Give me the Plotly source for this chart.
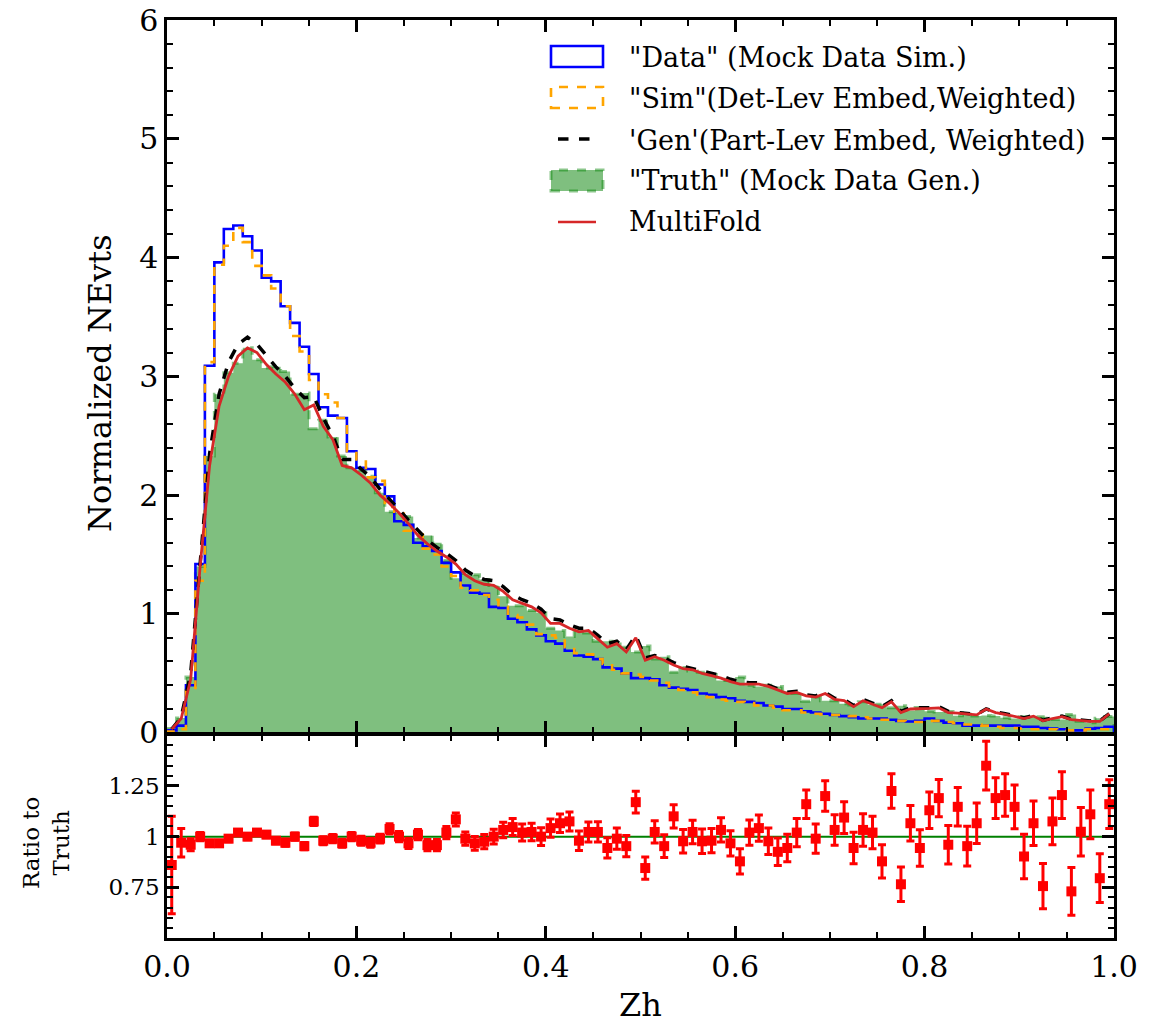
import numpy as np
import plotly.graph_objects as go

# ---------------- data ----------------
N_BINS = 100
bin_edges = np.linspace(0.0, 1.0, N_BINS + 1)
bin_centers = 0.5 * (bin_edges[:-1] + bin_edges[1:])

data_vals = [0.02, 0.06, 0.40, 1.42, 3.09, 3.96, 4.24, 4.27, 4.18, 4.06,
             3.83, 3.80, 3.59, 3.45, 3.25, 3.02, 2.74, 2.67, 2.65, 2.37,
             2.23, 2.22, 2.09, 1.99, 1.78, 1.75, 1.60, 1.57, 1.53, 1.43,
             1.35, 1.24, 1.18, 1.17, 1.06, 1.05, 0.96, 0.93, 0.87, 0.82,
             0.77, 0.75, 0.69, 0.65, 0.64, 0.62, 0.55, 0.54, 0.50, 0.46,
             0.46, 0.45, 0.40, 0.38, 0.37, 0.36, 0.33, 0.32, 0.30, 0.29,
             0.27, 0.26, 0.25, 0.23, 0.22, 0.20, 0.20, 0.18, 0.17, 0.16,
             0.15, 0.14, 0.13, 0.12, 0.12, 0.12, 0.11, 0.10, 0.095, 0.10,
             0.12, 0.10, 0.085, 0.08, 0.06, 0.06, 0.06, 0.06, 0.06, 0.06,
             0.05, 0.05, 0.04, 0.035, 0.03, 0.02, 0.02, 0.035, 0.04, 0.05]

sim_vals = [0.01, 0.03, 0.35, 1.28, 3.12, 3.94, 4.10, 4.25, 4.13, 3.93,
            3.85, 3.74, 3.59, 3.34, 3.21, 2.97, 2.85, 2.78, 2.65, 2.37,
            2.30, 2.15, 2.12, 1.90, 1.86, 1.70, 1.67, 1.55, 1.50, 1.40,
            1.32, 1.22, 1.20, 1.16, 1.12, 1.06, 0.99, 0.97, 0.91, 0.83,
            0.82, 0.80, 0.72, 0.67, 0.66, 0.62, 0.58, 0.53, 0.50, 0.49,
            0.47, 0.44, 0.42, 0.39, 0.36, 0.34, 0.32, 0.30, 0.28, 0.27,
            0.26, 0.25, 0.23, 0.23, 0.21, 0.19, 0.19, 0.17, 0.16, 0.155,
            0.15, 0.15, 0.14, 0.13, 0.12, 0.11, 0.11, 0.10, 0.09, 0.09,
            0.10, 0.10, 0.09, 0.08, 0.07, 0.07, 0.06, 0.05, 0.04, 0.04,
            0.035, 0.03, 0.03, 0.03, 0.025, 0.02, 0.02, 0.03, 0.03, 0.03]

gen_vals = [0.03, 0.13, 0.50, 1.45, 2.35, 2.85, 3.12, 3.27, 3.33, 3.27,
            3.17, 3.08, 3.00, 2.90, 2.82, 2.83, 2.65, 2.50, 2.30, 2.30,
            2.22, 2.15, 2.05, 1.97, 1.88, 1.79, 1.70, 1.62, 1.56, 1.51,
            1.45, 1.37, 1.32, 1.29, 1.28, 1.23, 1.16, 1.12, 1.09, 1.04,
            0.96, 0.95, 0.91, 0.88, 0.88, 0.82, 0.75, 0.77, 0.70, 0.82,
            0.63, 0.65, 0.63, 0.59, 0.56, 0.54, 0.52, 0.50, 0.48, 0.45,
            0.43, 0.42, 0.42, 0.40, 0.37, 0.34, 0.35, 0.32, 0.31, 0.34,
            0.29, 0.28, 0.23, 0.28, 0.25, 0.22, 0.27, 0.18, 0.21, 0.21,
            0.21, 0.22, 0.18, 0.17, 0.165, 0.155, 0.20, 0.175, 0.16, 0.145,
            0.125, 0.145, 0.105, 0.125, 0.14, 0.115, 0.105, 0.10, 0.10, 0.16]

truth_vals = [0.035, 0.124, 0.47, 1.40, 2.33, 2.85, 3.03, 3.11, 3.24, 3.14,
              3.07, 3.08, 3.04, 2.85, 2.86, 2.56, 2.63, 2.49, 2.33, 2.23,
              2.21, 2.16, 2.02, 1.86, 1.85, 1.82, 1.64, 1.66, 1.60, 1.45,
              1.30, 1.34, 1.33, 1.29, 1.24, 1.15, 1.07, 1.07, 1.03, 1.01,
              0.88, 0.86, 0.81, 0.87, 0.84, 0.77, 0.77, 0.76, 0.72, 0.68,
              0.73, 0.62, 0.64, 0.51, 0.55, 0.52, 0.51, 0.49, 0.44, 0.45,
              0.47, 0.40, 0.39, 0.40, 0.39, 0.35, 0.33, 0.265, 0.30, 0.27,
              0.27, 0.245, 0.234, 0.26, 0.235, 0.24, 0.21, 0.227, 0.187, 0.213,
              0.18, 0.175, 0.178, 0.143, 0.168, 0.14, 0.146, 0.142, 0.127, 0.121,
              0.134, 0.131, 0.135, 0.111, 0.111, 0.154, 0.097, 0.085, 0.122, 0.137]

multifold_vals = [0.03, 0.12, 0.45, 1.40, 2.25, 2.75, 3.00, 3.17, 3.24, 3.20,
                  3.10, 3.02, 2.95, 2.85, 2.72, 2.76, 2.58, 2.47, 2.25, 2.23,
                  2.17, 2.10, 2.00, 1.93, 1.85, 1.76, 1.66, 1.59, 1.53, 1.48,
                  1.42, 1.33, 1.28, 1.25, 1.24, 1.19, 1.12, 1.09, 1.06, 1.01,
                  0.92, 0.92, 0.88, 0.85, 0.86, 0.79, 0.72, 0.75, 0.68, 0.80,
                  0.61, 0.64, 0.61, 0.57, 0.54, 0.53, 0.50, 0.48, 0.46, 0.43,
                  0.41, 0.41, 0.41, 0.39, 0.36, 0.33, 0.34, 0.31, 0.30, 0.33,
                  0.28, 0.27, 0.22, 0.27, 0.24, 0.21, 0.26, 0.17, 0.20, 0.20,
                  0.205, 0.21, 0.17, 0.165, 0.16, 0.15, 0.20, 0.17, 0.155, 0.14,
                  0.12, 0.14, 0.10, 0.12, 0.135, 0.11, 0.10, 0.095, 0.095, 0.16]

ratio_vals = [0.86, 0.97, 0.96, 1.00, 0.967, 0.967, 0.99, 1.02, 1.00, 1.02,
              1.01, 0.98, 0.97, 1.00, 0.953, 1.075, 0.98, 0.99, 0.967, 1.00,
              0.98, 0.97, 0.99, 1.038, 1.00, 0.967, 1.01, 0.958, 0.958, 1.02,
              1.085, 0.99, 0.967, 0.975, 1.00, 1.033, 1.047, 1.02, 1.023, 1.00,
              1.042, 1.066, 1.075, 0.98, 1.023, 1.023, 0.944, 0.99, 0.953, 1.17,
              0.845, 1.023, 0.953, 1.10, 0.977, 1.023, 0.977, 0.98, 1.033, 0.967,
              0.878, 1.02, 1.042, 0.977, 0.925, 0.944, 1.02, 1.16, 0.99, 1.20,
              1.033, 1.094, 0.944, 1.033, 1.02, 0.878, 1.225, 0.765, 1.066, 0.944,
              1.13, 1.19, 0.96, 1.147, 0.953, 1.066, 1.35, 1.19, 1.205, 1.147,
              0.902, 1.066, 0.756, 1.075, 1.205, 0.73, 1.024, 1.11, 0.795, 1.16]

ratio_err = [0.24, 0.07, 0.03, 0.02, 0.015, 0.015, 0.015, 0.015, 0.015, 0.015,
             0.015, 0.015, 0.018, 0.018, 0.018, 0.02, 0.02, 0.02, 0.02, 0.02,
             0.022, 0.022, 0.022, 0.025, 0.025, 0.025, 0.025, 0.028, 0.028, 0.03,
             0.032, 0.033, 0.034, 0.035, 0.036, 0.038, 0.042, 0.042, 0.043, 0.044,
             0.045, 0.046, 0.047, 0.048, 0.049, 0.05, 0.05, 0.052, 0.052, 0.054,
             0.055, 0.055, 0.056, 0.057, 0.058, 0.058, 0.06, 0.06, 0.06, 0.062,
             0.062, 0.062, 0.065, 0.065, 0.068, 0.068, 0.07, 0.07, 0.072, 0.075,
             0.075, 0.078, 0.078, 0.08, 0.08, 0.082, 0.085, 0.085, 0.088, 0.09,
             0.09, 0.092, 0.095, 0.095, 0.098, 0.10, 0.12, 0.10, 0.105, 0.108,
             0.11, 0.11, 0.112, 0.115, 0.115, 0.118, 0.12, 0.12, 0.12, 0.12]

legend_labels = ['"Data" (Mock Data Sim.)',
                 '"Sim"(Det-Lev Embed,Weighted)',
                 "'Gen'(Part-Lev Embed, Weighted)",
                 '"Truth" (Mock Data Gen.)',
                 'MultiFold']

# ---------------- geometry helpers (layout only) ----------------
W, H = 1161, 1025
ML, MR, MT, MB = 167, 47, 20, 87
PW, PH = W - ML - MR, H - MT - MB
LW = 2.5
MAIN_BOTTOM_PX = 734 - LW / 2      # main panel domain bottom (pixel row)
RATIO_TOP_PX = 734 + LW / 2        # ratio panel domain top (pixel row)


def px(x):
    return (x - ML) / PW


def py(y):
    return (H - MB - y) / PH


def step_xy(vals):
    xs = [bin_edges[0]] + list(bin_edges[:-1]) + [bin_edges[-1], bin_edges[-1]]
    ys = [0.0] + list(vals) + [vals[-1], 0.0]
    return xs, ys


FONT = "DejaVu Serif"
GREEN_FILL = "rgba(0,128,0,0.5)"
GREEN_EDGE = "rgba(0,128,0,0.45)"

fig = go.Figure()

# Truth (filled step)
tx, ty = step_xy(truth_vals)
fig.add_trace(go.Scatter(x=tx, y=ty, mode="lines", line_shape="hv",
                         fill="tozeroy", fillcolor=GREEN_FILL,
                         line=dict(color=GREEN_EDGE, width=3, dash="dash"),
                         xaxis="x", yaxis="y", showlegend=False))
# Data
dx, dy = step_xy(data_vals)
fig.add_trace(go.Scatter(x=dx, y=dy, mode="lines", line_shape="hv",
                         line=dict(color="#0000ff", width=2.6),
                         xaxis="x", yaxis="y", showlegend=False))
# Sim
sx, sy = step_xy(sim_vals)
fig.add_trace(go.Scatter(x=sx, y=sy, mode="lines", line_shape="hv",
                         line=dict(color="#ffa500", width=2.6, dash="dash"),
                         xaxis="x", yaxis="y", showlegend=False))
# Gen
fig.add_trace(go.Scatter(x=bin_centers, y=gen_vals, mode="lines",
                         line=dict(color="black", width=3.5, dash="dash"),
                         xaxis="x", yaxis="y", showlegend=False))
# MultiFold
fig.add_trace(go.Scatter(x=bin_centers, y=multifold_vals, mode="lines",
                         line=dict(color="#d62728", width=2.8),
                         xaxis="x", yaxis="y", showlegend=False))

# Ratio panel
fig.add_trace(go.Scatter(x=[0.0, 1.0], y=[1.0, 1.0], mode="lines",
                         line=dict(color="green", width=2),
                         xaxis="x2", yaxis="y2", showlegend=False))
fig.add_trace(go.Scatter(x=bin_centers, y=ratio_vals, mode="markers",
                         marker=dict(symbol="square", size=10, color="#ff0000"),
                         error_y=dict(type="data", array=ratio_err, visible=True,
                                      color="#ff0000", thickness=3, width=4),
                         xaxis="x2", yaxis="y2", showlegend=False))

# ---------------- custom legend ----------------
shapes = []
shapes.append(dict(type="rect", xref="paper", yref="paper",
                   x0=px(551), x1=px(603), y0=py(67), y1=py(46),
                   line=dict(color="#0000ff", width=2.6), fillcolor="rgba(0,0,0,0)"))
shapes.append(dict(type="rect", xref="paper", yref="paper",
                   x0=px(551), x1=px(603), y0=py(108), y1=py(87),
                   line=dict(color="#ffa500", width=2.6, dash="dash"),
                   fillcolor="rgba(0,0,0,0)"))
shapes.append(dict(type="line", xref="paper", yref="paper",
                   x0=px(558), x1=px(594), y0=py(139), y1=py(139),
                   line=dict(color="black", width=3.5, dash="dash")))
shapes.append(dict(type="rect", xref="paper", yref="paper",
                   x0=px(551), x1=px(603), y0=py(191), y1=py(170),
                   line=dict(color=GREEN_EDGE, width=3, dash="dash"),
                   fillcolor=GREEN_FILL))
shapes.append(dict(type="line", xref="paper", yref="paper",
                   x0=px(558), x1=px(596), y0=py(222), y1=py(222),
                   line=dict(color="#d62728", width=2.4)))

annotations = []
for lab, yc in zip(legend_labels, [57, 98, 140, 181, 221]):
    annotations.append(dict(text=lab, xref="paper", yref="paper",
                            x=px(627), y=py(yc), xanchor="left", yanchor="middle",
                            showarrow=False, font=dict(family=FONT, size=27, color="black")))

annotations.append(dict(text="Normalized NEvts", xref="paper", yref="paper",
                        x=px(100), y=py(383), textangle=-90, showarrow=False,
                        xanchor="center", yanchor="middle",
                        font=dict(family=FONT, size=32, color="black")))
annotations.append(dict(text="Ratio to<br>Truth", xref="paper", yref="paper",
                        x=px(46), y=py(843), textangle=-90, showarrow=False,
                        xanchor="center", yanchor="middle",
                        font=dict(family=FONT, size=23, color="black")))
annotations.append(dict(text="Zh", xref="paper", yref="paper",
                        x=px(640), y=py(1005), showarrow=False,
                        xanchor="center", yanchor="middle",
                        font=dict(family=FONT, size=32, color="black")))

axis_common = dict(showline=True, linecolor="black", linewidth=LW,
                   mirror="allticks", ticks="inside", ticklen=12, tickwidth=2.5,
                   tickcolor="black", showgrid=False, zeroline=False,
                   automargin=False,
                   tickfont=dict(family=FONT, size=30, color="black"))

minor_common = dict(ticks="inside", ticklen=6, tickwidth=1.8, tickcolor="black",
                    showgrid=False)

fig.update_layout(
    width=W, height=H,
    margin=dict(l=ML, r=MR, t=MT, b=MB, pad=0, autoexpand=False),
    paper_bgcolor="white", plot_bgcolor="white",
    showlegend=False,
    shapes=shapes, annotations=annotations,
    xaxis=dict(domain=[0, 1], range=[0, 1], anchor="y", showticklabels=False,
               tick0=0, dtick=0.2,
               minor=dict(tick0=0, dtick=0.05, **minor_common),
               **axis_common),
    yaxis=dict(domain=[py(MAIN_BOTTOM_PX), 1], range=[0, 6], anchor="x",
               tick0=0, dtick=1,
               minor=dict(tick0=0, dtick=0.2, **minor_common),
               **axis_common),
    xaxis2=dict(domain=[0, 1], range=[0, 1], anchor="y2", matches="x",
                tick0=0, dtick=0.2, tickformat=".1f",
                minor=dict(tick0=0, dtick=0.05, **minor_common),
                **axis_common),
    yaxis2=dict(domain=[0, py(RATIO_TOP_PX)], range=[0.5, 1.5], anchor="x2",
                tickmode="array", tickvals=[0.75, 1.0, 1.25],
                ticktext=["0.75", "1", "1.25"],
                minor=dict(tickmode="linear", tick0=0.5, dtick=0.05, **minor_common),
                **{**axis_common, "tickfont": dict(family=FONT, size=23, color="black")}),
)

fig.write_html("out.html")
